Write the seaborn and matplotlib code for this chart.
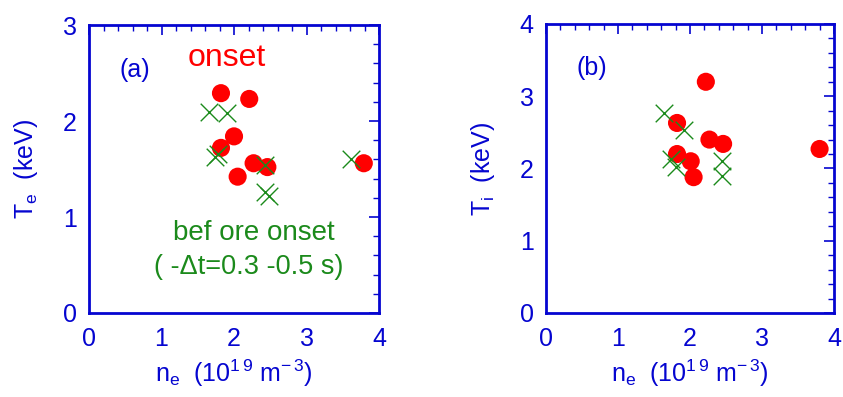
import pandas as pd
import seaborn as sns
import matplotlib.pyplot as plt
from matplotlib.ticker import MultipleLocator

# panel (a): Te vs ne
OnsetNeA = [1.82, 2.21, 2.00, 1.82, 2.27, 2.46, 2.05, 3.79]
OnsetTe = [2.29, 2.23, 1.84, 1.72, 1.56, 1.52, 1.42, 1.56]
BeforeNeA = [1.66, 1.91, 1.74, 1.78, 2.43, 2.43, 2.48, 3.62]
BeforeTe = [2.09, 2.08, 1.62, 1.66, 1.54, 1.26, 1.22, 1.60]

# panel (b): Ti vs ne
OnsetNeB = [2.22, 1.82, 2.27, 2.46, 1.82, 2.01, 2.05, 3.80]
OnsetTi = [3.20, 2.63, 2.40, 2.34, 2.20, 2.10, 1.88, 2.27]
BeforeNeB = [1.64, 1.92, 1.74, 1.81, 2.44, 2.44]
BeforeTi = [2.77, 2.53, 2.13, 2.02, 2.10, 1.90]

sns.set_style('white')
plt.rcParams['font.family'] = ['Liberation Sans', 'DejaVu Sans']
plt.rcParams['mathtext.fontset'] = 'custom'
plt.rcParams['mathtext.rm'] = 'Liberation Sans'
plt.rcParams['mathtext.it'] = 'Liberation Sans'

Blue = '#0505d0'
Red = '#ff0000'
Green = '#1b8a1b'
xlab = r'n$_{\rm e}$  (10$^{1\,9}$ m$^{-\,3}$)'

fig = plt.figure(figsize=(8.43, 3.97), dpi=100)
axA = fig.add_axes([0.1056, 0.2116, 0.344, 0.7254])
axB = fig.add_axes([0.6477, 0.2116, 0.3416, 0.728])

dfOnA = pd.DataFrame({'ne': OnsetNeA, 'T': OnsetTe})
dfBfA = pd.DataFrame({'ne': BeforeNeA, 'T': BeforeTe})
dfOnB = pd.DataFrame({'ne': OnsetNeB, 'T': OnsetTi})
dfBfB = pd.DataFrame({'ne': BeforeNeB, 'T': BeforeTi})

for ax, on, bf, ymax, ylab in [(axA, dfOnA, dfBfA, 3, r'T$_{\rm e}$  (keV)'),
                               (axB, dfOnB, dfBfB, 4, r'T$_{\rm i}$  (keV)')]:
    sns.scatterplot(data=on, x='ne', y='T', ax=ax, color=Red, s=170,
                    edgecolor='none', zorder=3)
    sns.scatterplot(data=bf, x='ne', y='T', ax=ax, color=Green, marker='x',
                    s=160, linewidth=1.0, zorder=4)
    ax.set_xlim(0, 4)
    ax.set_ylim(0, ymax)
    ax.xaxis.set_major_locator(MultipleLocator(1))
    ax.xaxis.set_minor_locator(MultipleLocator(0.2))
    ax.yaxis.set_major_locator(MultipleLocator(1))
    ax.yaxis.set_minor_locator(MultipleLocator(0.2))
    ax.tick_params(which='both', direction='in', top=True, right=True,
                   color=Blue, labelcolor=Blue, labelsize=18)
    ax.tick_params(which='major', length=7, width=1.2)
    ax.tick_params(which='minor', length=4, width=1.0)
    ax.tick_params(axis='x', pad=10)
    ax.tick_params(axis='y', pad=9)
    for sp in ax.spines.values():
        sp.set_color(Blue)
        sp.set_linewidth(2)
    ax.set_xlabel(xlab, color=Blue, fontsize=18, labelpad=5)
    ax.set_ylabel(ylab, color=Blue, fontsize=18, labelpad=16)

axA.text(0.63, 2.53, '(a)', color=Blue, fontsize=18, ha='center', va='center')
axA.text(1.9, 2.66, 'onset', color=Red, fontsize=23, ha='center', va='center')
axA.text(2.27, 0.83, 'bef ore onset', color=Green, fontsize=20, ha='center', va='center')
axA.text(2.2, 0.48, '( -\u0394t=0.3 -0.5 s)', color=Green, fontsize=19.5, ha='center', va='center')
axB.text(0.64, 3.39, '(b)', color=Blue, fontsize=18, ha='center', va='center')

fig.savefig('out.png', dpi=100)
